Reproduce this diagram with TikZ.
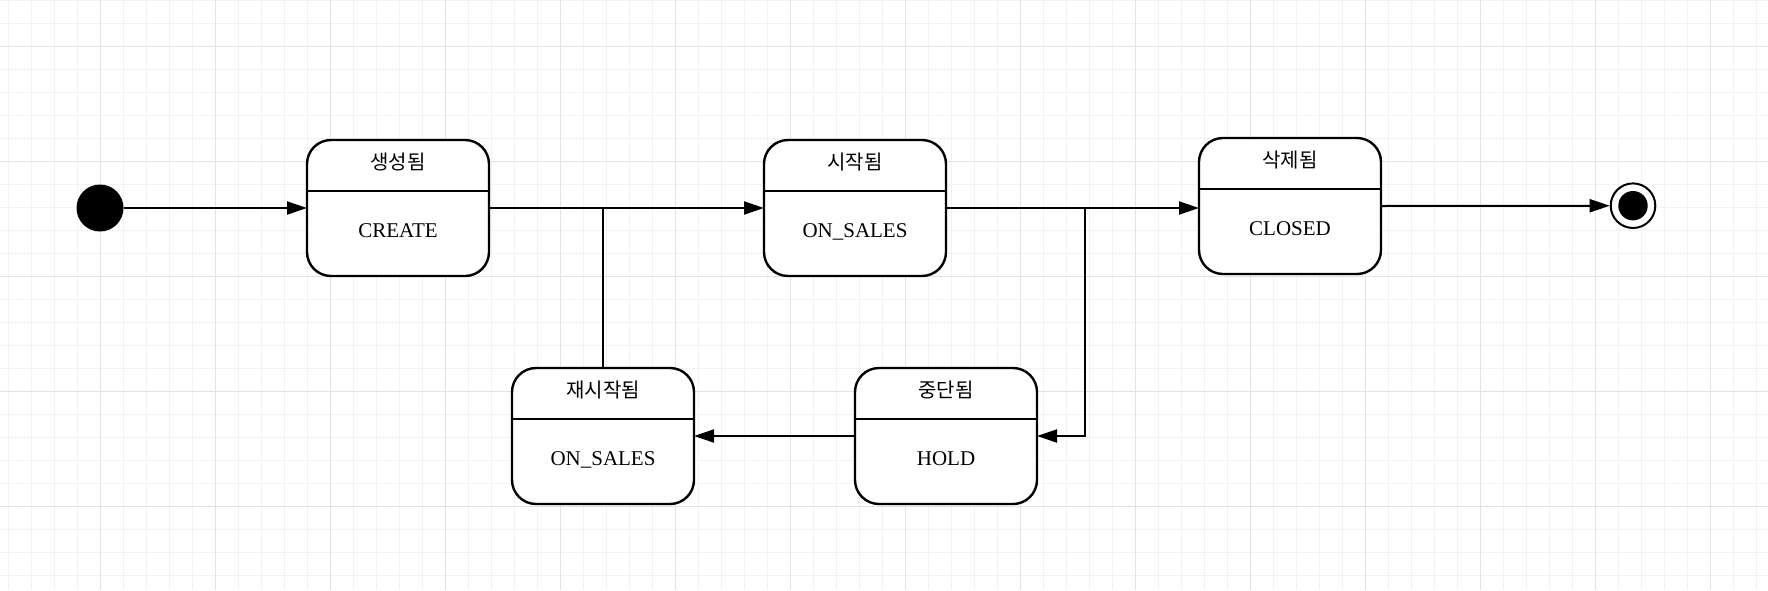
\documentclass[tikz,border=0pt]{standalone}
\usepackage{fontspec}
\setmainfont{Liberation Serif}
\newfontfamily\kr{Noto Sans CJK KR}
\usetikzlibrary{arrows.meta}
\definecolor{gridminor}{HTML}{F2F2F2}
\definecolor{gridmajor}{HTML}{E2E2E2}
\tikzset{
  statebox/.style={draw, line width=1.2pt, rounded corners=12pt, minimum width=91pt, minimum height=68pt, inner sep=0pt, outer sep=0pt, fill=white},
  divider/.style={line width=1.2pt},
  titletxt/.style={font=\kr\fontsize{10}{12}\selectfont, text height=8pt, text depth=0pt, inner sep=0pt},
  bodytxt/.style={font=\fontsize{10.5}{12}\selectfont, text height=7.5pt, text depth=0pt, inner sep=0pt},
  conn/.style={line width=1pt, -{Triangle[length=10pt,width=6.5pt]}},
  plainline/.style={line width=1pt},
  initstate/.style={circle, fill=black, minimum size=23.5pt, inner sep=0pt, outer sep=0pt},
  finalstate/.style={circle, draw, line width=1pt, fill=white, minimum size=22.3pt, inner sep=0pt, outer sep=0.5pt,
    path picture={\fill[black] (path picture bounding box.center) circle (7.35pt);}}
}
\newcommand\stbox[4]{%
  \node[statebox] (#1) at (#2) {};
  \draw[divider] ([yshift=-25.5pt]#1.north west) -- ([yshift=-25.5pt]#1.north east);
  \node[titletxt] (#1-t) at ([yshift=-10.6pt]#1.north) {#3};
  \node[bodytxt] (#1-b) at ([yshift=23pt]#1.south) {#4};
}
\begin{document}
\begin{tikzpicture}[x=0.5pt, y=-0.5pt]
  \useasboundingbox (0,0) rectangle (1768,590);
  \fill[white] (0,0) rectangle (1768,590);
  % grid
  \foreach \i in {0,...,76} {\draw[gridminor, line width=0.5pt] ({8+23*\i},0) -- ({8+23*\i},590);}
  \foreach \i in {0,...,25} {\draw[gridminor, line width=0.5pt] (0,{0.7+23*\i}) -- (1768,{0.7+23*\i});}
  \foreach \i in {0,...,14} {\draw[gridmajor, line width=0.5pt] ({100+115*\i},0) -- ({100+115*\i},590);}
  \foreach \i in {0,...,4} {\draw[gridmajor, line width=0.5pt] (0,{46.7+115*\i}) -- (1768,{46.7+115*\i});}

  % states
  \node[initstate] (init) at (100,208) {};
  \stbox{create}{398,208}{생성됨}{CREATE}
  \stbox{start}{855,208}{시작됨}{ON\_SALES}
  \stbox{closed}{1290,206}{삭제됨}{CLOSED}
  \stbox{restart}{603,436}{재시작됨}{ON\_SALES}
  \stbox{hold}{946,436}{중단됨}{HOLD}
  \node[finalstate] (final) at (1633,205.7) {};

  \coordinate (j1) at (603,208);
  \coordinate (j2) at (1085,208);

  % connectors
  \draw[conn] (init) -- (create);
  \draw[conn] (create.east) -- (start.west);
  \draw[plainline] (restart.north) -- (j1);
  \draw[conn] (start.east) -- (start.east -| closed.west);
  \draw[conn] (j2) |- (hold.east);
  \draw[conn] (hold.west) -- (restart.east);
  \draw[conn] (closed.east) -- (final);
\end{tikzpicture}
\end{document}
